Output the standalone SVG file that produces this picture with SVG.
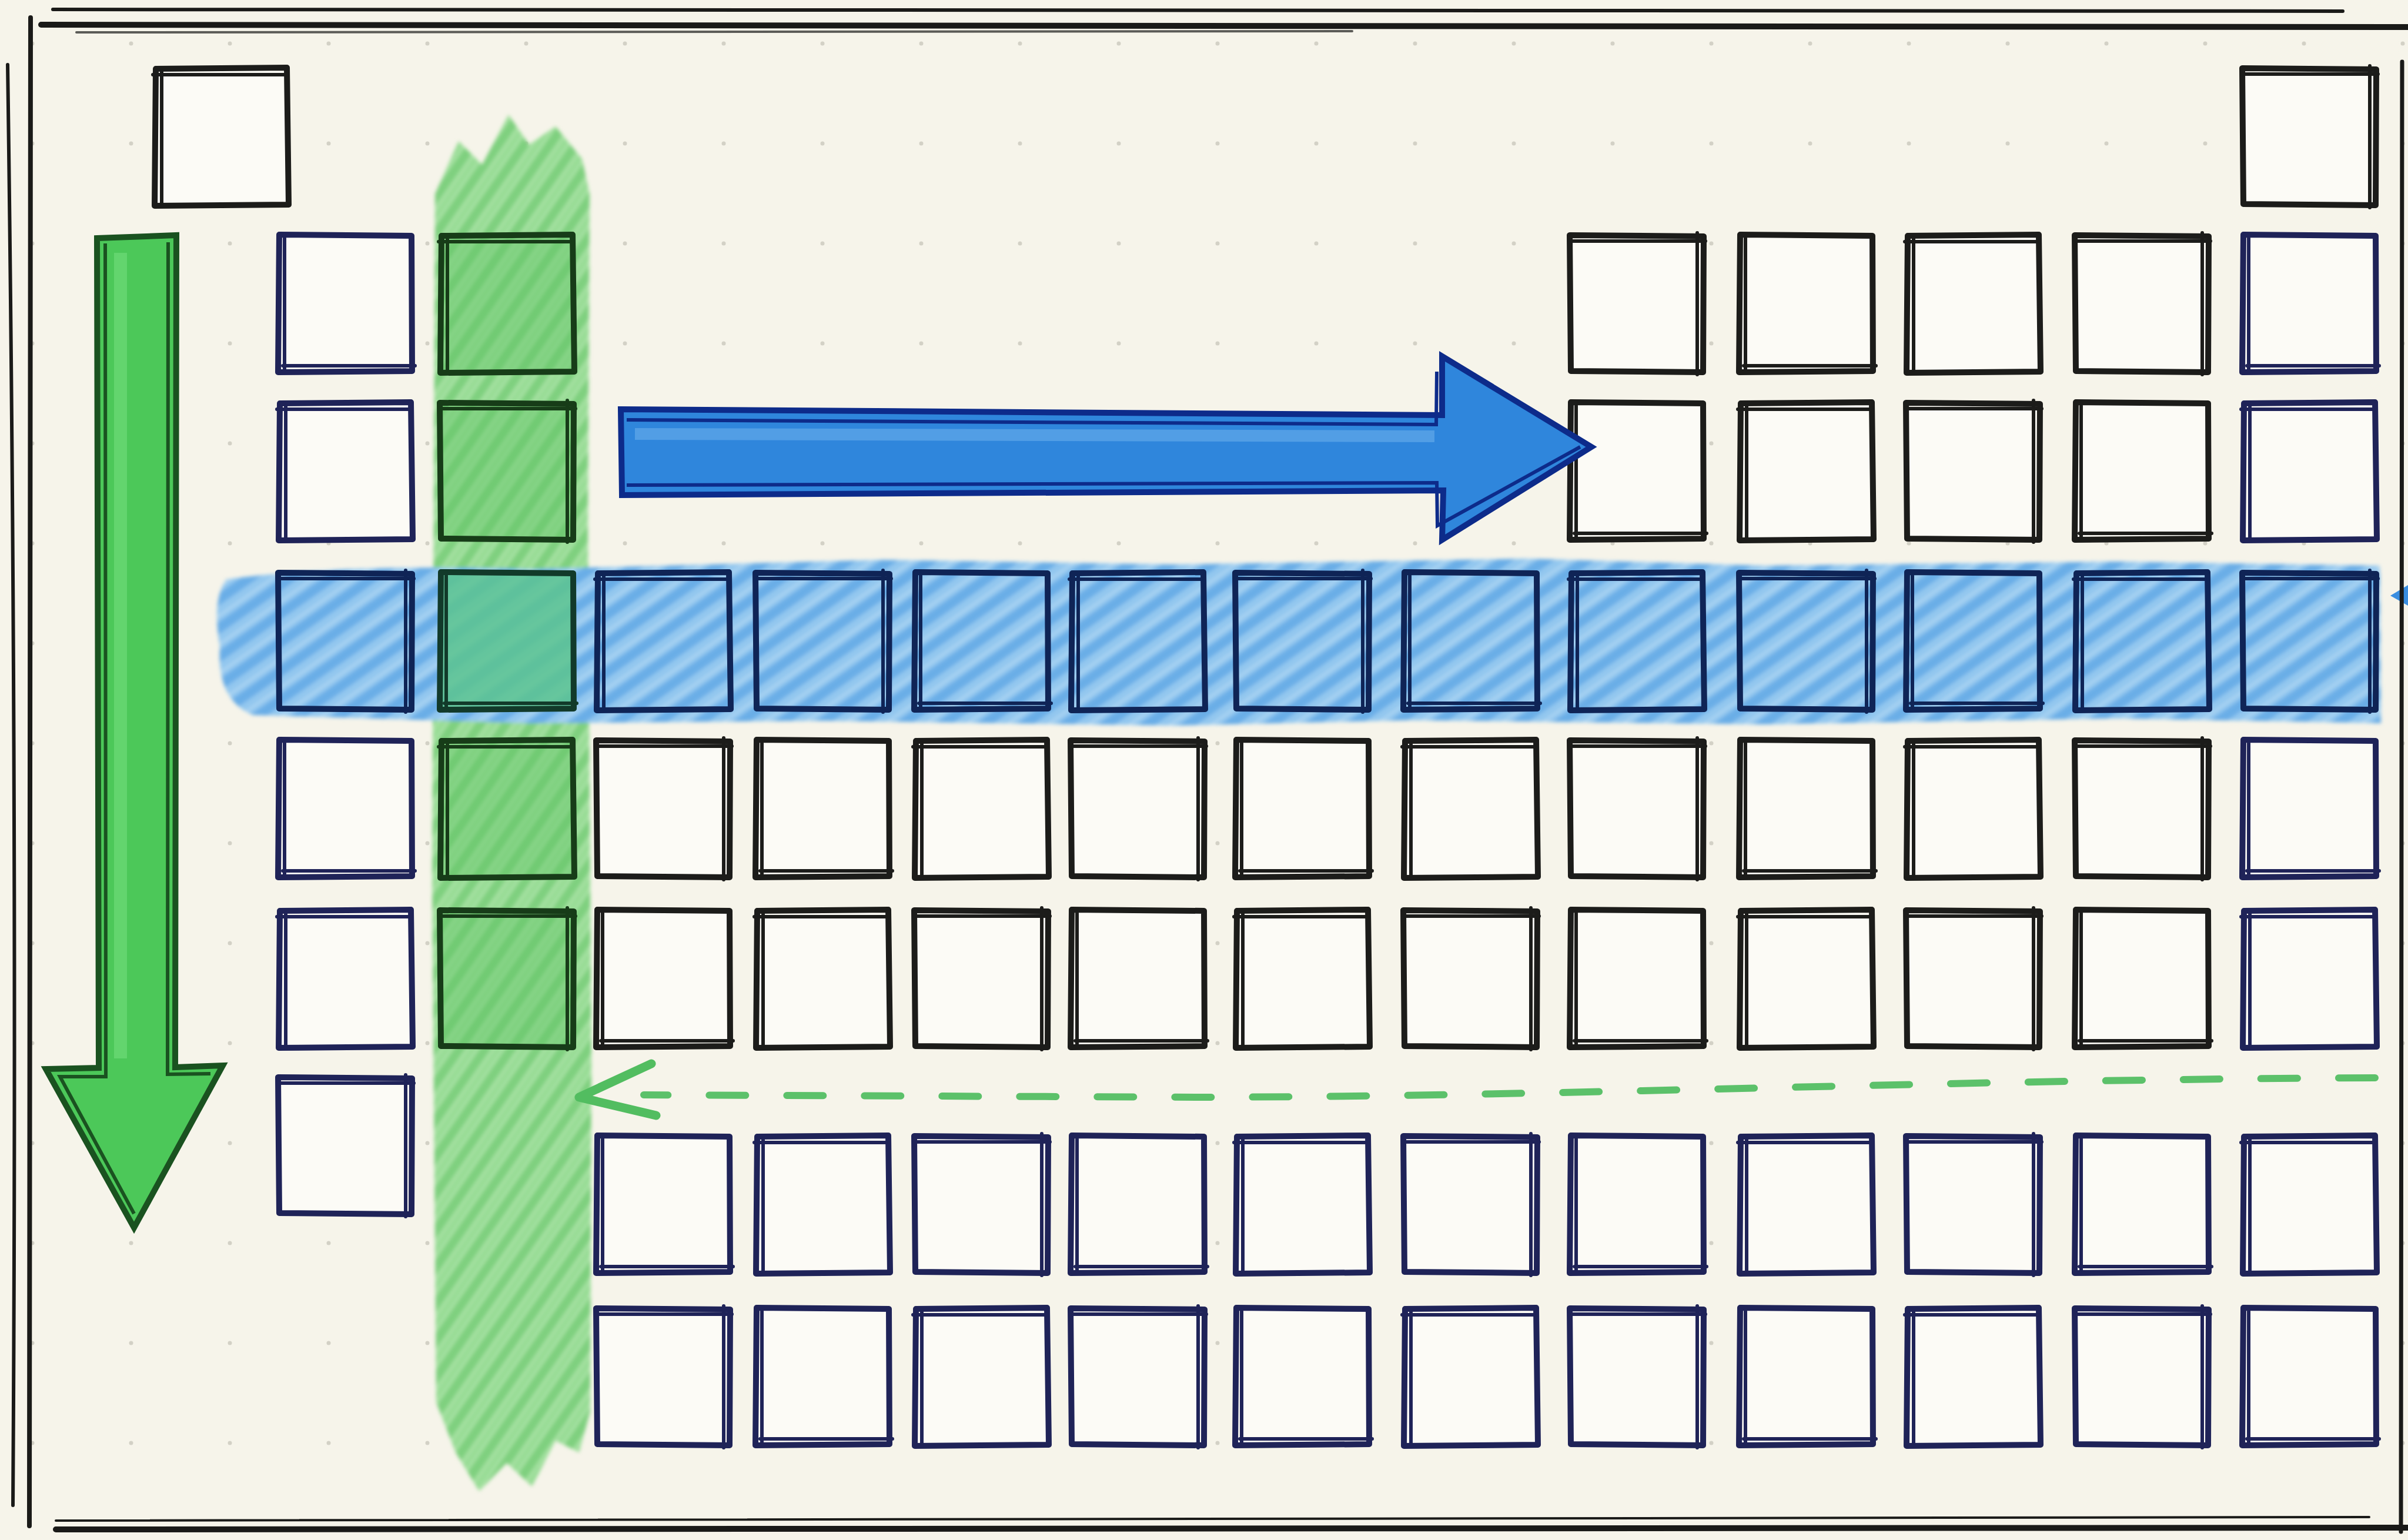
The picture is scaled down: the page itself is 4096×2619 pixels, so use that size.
<svg xmlns="http://www.w3.org/2000/svg" width="4096" height="2619" viewBox="0 0 4096 2619">
<style>
.o{stroke-width:10;stroke-linejoin:round;stroke-linecap:round}
.i{stroke-width:6;fill:none;stroke-linecap:round}
.bk{stroke:#1c1c1a;fill:#fcfbf6}
.nv{stroke:#1f2358;fill:#fcfbf6}
.bl{stroke:#0f2456;fill:none}
.gr{stroke:#173c18;fill:#5cc462;fill-opacity:0.4}
.gb{stroke:#123a2a;fill:#5cc48e;fill-opacity:0.85}
.frame{fill:none;stroke:#1a1a18;stroke-linecap:round}
.dash{fill:none;stroke:#5cc16a;stroke-width:12;stroke-linecap:round;stroke-dasharray:62 70}
</style>
<defs>
<filter id="soft" x="-5%" y="-5%" width="110%" height="110%"><feGaussianBlur stdDeviation="3"/></filter>
<pattern id="dots" patternUnits="userSpaceOnUse" x="-29" y="-11" width="168" height="170">
<circle cx="84" cy="85" r="3.5" fill="#d3d1c6"/>
</pattern>
<pattern id="hg" patternUnits="userSpaceOnUse" width="36" height="36" patternTransform="rotate(-55)">
<rect width="36" height="36" fill="#a2e09f"/>
<rect width="36" height="15" fill="#7fd07f"/>
<rect y="24" width="36" height="4" fill="#90d98e"/>
</pattern>
<pattern id="hb" patternUnits="userSpaceOnUse" width="40" height="40" patternTransform="rotate(-35)">
<rect width="40" height="40" fill="#93c7ef"/>
<rect width="40" height="17" fill="#6aaee7"/>
<rect y="30" width="40" height="3" fill="#b6daf4"/>
</pattern>
<g id="bA"><path class="o" d="M3 2 L226 0 L229 233 L1 235 Z"/><path class="i" d="M-2 12 H222 M13 6 V230"/></g>
<g id="bB"><path class="o" d="M0 1 L228 3 L227 234 L2 232 Z"/><path class="i" d="M4 11 H231 M217 -3 V238"/></g>
<g id="bC"><path class="o" d="M2 0 L227 2 L228 232 L0 234 Z"/><path class="i" d="M8 223 H233 M11 6 V229"/></g>
</defs>

<rect width="4096" height="2619" fill="#f6f4ea"/>
<rect width="4096" height="2619" fill="url(#dots)"/>

<g id="highlights" filter="url(#soft)">
<path id="band-green" d="M740 330 L780 240 L820 280 L865 195 L900 246 L945 215 L990 270 L1003 330 L1000 900 L1006 1800 L1004 2400 L985 2470 L945 2450 L905 2528 L862 2488 L815 2536 L775 2470 L742 2385 L735 1500 L738 800 Z" fill="url(#hg)"/>
<path id="band-blue" d="M385 985 Q600 958 900 968 L1500 952 L2000 960 L2600 950 L3000 962 L3600 955 L4048 962 L4050 1230 L3600 1222 L3000 1232 L2400 1225 L2000 1234 L1400 1226 L900 1230 L430 1216 Q368 1190 374 1100 Q360 1020 385 985 Z" fill="url(#hb)"/>
</g>

<g id="nodes">
<g id="n-h" class="bk"><use href="#bA" x="262" y="115"/></g>
<g id="n-he" class="bk"><use href="#bB" x="3814" y="115"/></g>

<g id="n-r1c1" class="nv"><use href="#bC" x="473" y="399"/></g>
<g id="n-r1c2" class="gr"><use href="#bA" x="748" y="399"/></g>
<g id="n-r1c9" class="bk"><use href="#bB" x="2670" y="399"/></g>
<g id="n-r1c10" class="bk"><use href="#bC" x="2958" y="399"/></g>
<g id="n-r1c11" class="bk"><use href="#bA" x="3242" y="399"/></g>
<g id="n-r1c12" class="bk"><use href="#bB" x="3529" y="399"/></g>
<g id="n-r1c13" class="nv"><use href="#bC" x="3814" y="399"/></g>

<g id="n-r2c1" class="nv"><use href="#bA" x="473" y="684"/></g>
<g id="n-r2c2" class="gr"><use href="#bB" x="748" y="684"/></g>
<g id="n-r2c9" class="bk"><use href="#bC" x="2670" y="684"/></g>
<g id="n-r2c10" class="bk"><use href="#bA" x="2958" y="684"/></g>
<g id="n-r2c11" class="bk"><use href="#bB" x="3242" y="684"/></g>
<g id="n-r2c12" class="bk"><use href="#bC" x="3529" y="684"/></g>
<g id="n-r2c13" class="nv"><use href="#bA" x="3814" y="684"/></g>

<g id="n-r3c1" class="bl"><use href="#bB" x="473" y="973"/></g>
<g id="n-r3c2" class="gb"><use href="#bC" x="748" y="973"/></g>
<g id="n-r3c3" class="bl"><use href="#bA" x="1014" y="973"/></g>
<g id="n-r3c4" class="bl"><use href="#bB" x="1285" y="973"/></g>
<g id="n-r3c5" class="bl"><use href="#bC" x="1555" y="973"/></g>
<g id="n-r3c6" class="bl"><use href="#bA" x="1821" y="973"/></g>
<g id="n-r3c7" class="bl"><use href="#bB" x="2101" y="973"/></g>
<g id="n-r3c8" class="bl"><use href="#bC" x="2387" y="973"/></g>
<g id="n-r3c9" class="bl"><use href="#bA" x="2670" y="973"/></g>
<g id="n-r3c10" class="bl"><use href="#bB" x="2958" y="973"/></g>
<g id="n-r3c11" class="bl"><use href="#bC" x="3242" y="973"/></g>
<g id="n-r3c12" class="bl"><use href="#bA" x="3529" y="973"/></g>
<g id="n-r3c13" class="bl"><use href="#bB" x="3814" y="973"/></g>

<g id="n-r4c1" class="nv"><use href="#bC" x="473" y="1258"/></g>
<g id="n-r4c2" class="gr"><use href="#bA" x="748" y="1258"/></g>
<g id="n-r4c3" class="bk"><use href="#bB" x="1014" y="1258"/></g>
<g id="n-r4c4" class="bk"><use href="#bC" x="1285" y="1258"/></g>
<g id="n-r4c5" class="bk"><use href="#bA" x="1555" y="1258"/></g>
<g id="n-r4c6" class="bk"><use href="#bB" x="1821" y="1258"/></g>
<g id="n-r4c7" class="bk"><use href="#bC" x="2101" y="1258"/></g>
<g id="n-r4c8" class="bk"><use href="#bA" x="2387" y="1258"/></g>
<g id="n-r4c9" class="bk"><use href="#bB" x="2670" y="1258"/></g>
<g id="n-r4c10" class="bk"><use href="#bC" x="2958" y="1258"/></g>
<g id="n-r4c11" class="bk"><use href="#bA" x="3242" y="1258"/></g>
<g id="n-r4c12" class="bk"><use href="#bB" x="3529" y="1258"/></g>
<g id="n-r4c13" class="nv"><use href="#bC" x="3814" y="1258"/></g>

<g id="n-r5c1" class="nv"><use href="#bA" x="473" y="1547"/></g>
<g id="n-r5c2" class="gr"><use href="#bB" x="748" y="1547"/></g>
<g id="n-r5c3" class="bk"><use href="#bC" x="1014" y="1547"/></g>
<g id="n-r5c4" class="bk"><use href="#bA" x="1285" y="1547"/></g>
<g id="n-r5c5" class="bk"><use href="#bB" x="1555" y="1547"/></g>
<g id="n-r5c6" class="bk"><use href="#bC" x="1821" y="1547"/></g>
<g id="n-r5c7" class="bk"><use href="#bA" x="2101" y="1547"/></g>
<g id="n-r5c8" class="bk"><use href="#bB" x="2387" y="1547"/></g>
<g id="n-r5c9" class="bk"><use href="#bC" x="2670" y="1547"/></g>
<g id="n-r5c10" class="bk"><use href="#bA" x="2958" y="1547"/></g>
<g id="n-r5c11" class="bk"><use href="#bB" x="3242" y="1547"/></g>
<g id="n-r5c12" class="bk"><use href="#bC" x="3529" y="1547"/></g>
<g id="n-r5c13" class="nv"><use href="#bA" x="3814" y="1547"/></g>

<g id="n-r6c1" class="nv"><use href="#bB" x="473" y="1831"/></g>

<g id="n-f1c3" class="nv"><use href="#bC" x="1014" y="1931"/></g>
<g id="n-f1c4" class="nv"><use href="#bA" x="1285" y="1931"/></g>
<g id="n-f1c5" class="nv"><use href="#bB" x="1555" y="1931"/></g>
<g id="n-f1c6" class="nv"><use href="#bC" x="1821" y="1931"/></g>
<g id="n-f1c7" class="nv"><use href="#bA" x="2101" y="1931"/></g>
<g id="n-f1c8" class="nv"><use href="#bB" x="2387" y="1931"/></g>
<g id="n-f1c9" class="nv"><use href="#bC" x="2670" y="1931"/></g>
<g id="n-f1c10" class="nv"><use href="#bA" x="2958" y="1931"/></g>
<g id="n-f1c11" class="nv"><use href="#bB" x="3242" y="1931"/></g>
<g id="n-f1c12" class="nv"><use href="#bC" x="3529" y="1931"/></g>
<g id="n-f1c13" class="nv"><use href="#bA" x="3814" y="1931"/></g>

<g id="n-f2c3" class="nv"><use href="#bB" x="1014" y="2224"/></g>
<g id="n-f2c4" class="nv"><use href="#bC" x="1285" y="2224"/></g>
<g id="n-f2c5" class="nv"><use href="#bA" x="1555" y="2224"/></g>
<g id="n-f2c6" class="nv"><use href="#bB" x="1821" y="2224"/></g>
<g id="n-f2c7" class="nv"><use href="#bC" x="2101" y="2224"/></g>
<g id="n-f2c8" class="nv"><use href="#bA" x="2387" y="2224"/></g>
<g id="n-f2c9" class="nv"><use href="#bB" x="2670" y="2224"/></g>
<g id="n-f2c10" class="nv"><use href="#bC" x="2958" y="2224"/></g>
<g id="n-f2c11" class="nv"><use href="#bA" x="3242" y="2224"/></g>
<g id="n-f2c12" class="nv"><use href="#bB" x="3529" y="2224"/></g>
<g id="n-f2c13" class="nv"><use href="#bC" x="3814" y="2224"/></g>
</g>

<g id="connectors">
<g id="arrow-down">
<path d="M165 405 L300 400 L298 1815 L379 1812 L228 2088 L78 1818 L168 1816 Z" fill="#4cc859" stroke="#1a5220" stroke-width="10" stroke-linejoin="miter"/>
<path d="M205 430 L205 1800" stroke="#7be283" stroke-width="22" opacity=".5"/>
<path d="M179 414 L180 1831 L102 1831 L228 2064 M286 412 L285 1827 L358 1826" fill="none" stroke="#1a5220" stroke-width="6"/>
</g>
<g id="arrow-right">
<path d="M1056 696 L2453 706 L2453 606 L2707 760 L2453 918 L2455 834 L1058 842 Z" fill="#2f86dc" stroke="#0d2b8a" stroke-width="10" stroke-linejoin="miter"/>
<path d="M1080 738 L2440 742" stroke="#6fb2ee" stroke-width="20" opacity=".55"/>
<path d="M1066 714 L2443 722 L2444 632 M1066 825 L2444 821 L2445 894 L2688 760" fill="none" stroke="#0d2b8a" stroke-width="6"/>
</g>
<g id="arrow-dashed">
<path class="dash" d="M4040 1833 C3300 1836 2700 1864 2050 1866 L1095 1862"/>
<path d="M1108 1809 L985 1866 L1116 1897" fill="none" stroke="#52bd60" stroke-width="15" stroke-linecap="round" stroke-linejoin="round"/>
</g>
<path id="arrow-edge" d="M4096 995 L4066 1013 L4096 1030 Z" fill="#3a8ee0"/>
</g>

<g id="frame">
<path class="frame" d="M90 16 L3985 19" stroke-width="6"/>
<path class="frame" d="M70 42 Q2000 38 4096 46" stroke-width="10"/>
<path class="frame" d="M130 55 L2300 53" stroke-width="4" opacity=".7"/>
<path class="frame" d="M13 110 Q30 1300 22 2560" stroke-width="6"/>
<path class="frame" d="M52 30 Q46 1300 50 2595" stroke-width="8"/>
<path class="frame" d="M95 2601 Q2000 2607 4096 2598" stroke-width="10"/>
<path class="frame" d="M95 2586 Q2400 2574 4030 2580" stroke-width="4"/>
<path class="frame" d="M4086 105 Q4080 1300 4084 2605" stroke-width="7"/>
</g>
</svg>
